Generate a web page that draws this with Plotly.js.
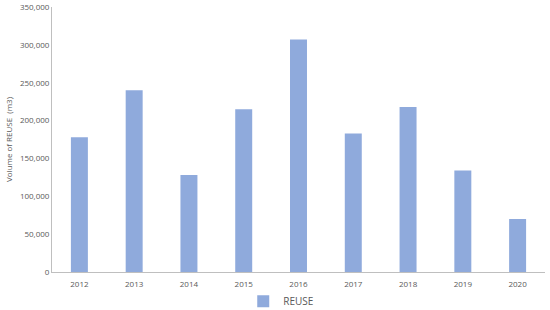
<!DOCTYPE html>
<html>
<head>
<meta charset="utf-8">
<script src="https://cdn.plot.ly/plotly-3.0.1.min.js"></script>
<style>
  html, body { margin: 0; padding: 0; background: #fff; }
  #chart { width: 550px; height: 310px; }
</style>
</head>
<body>
<div id="chart"></div>
<script>
// ── Data ──────────────────────────────────────────────────────────────────────
const years  = ['2012', '2013', '2014', '2015', '2016', '2017', '2018', '2019', '2020'];
const reuse  = [178000, 240000, 128000, 215000, 307000, 183000, 218000, 134000, 70000];
const yTicks = [0, 50000, 100000, 150000, 200000, 250000, 300000, 350000];

const GREY = '#595959';

const traces = [{
  x: years, y: reuse, name: 'REUSE',
  type: 'bar',
  marker: { color: '#8faadc' },
  hoverinfo: 'x+y',
}];

Plotly.newPlot('chart', traces, {
  width: 550, height: 310,
  paper_bgcolor: '#fff', plot_bgcolor: '#fff',
  font: { family: 'Open Sans, Liberation Sans, sans-serif', size: 8, color: GREY },
  margin: { t: 7, b: 38, l: 52, r: 5, autoexpand: false },
  bargap: 0.69,
  showlegend: true,
  legend: {
    orientation: 'h', x: 0.465, xanchor: 'center', y: -0.11, yanchor: 'middle',
    bgcolor: 'rgba(0,0,0,0)',
    font: { size: 10, color: GREY },
    itemwidth: 30,
  },
  xaxis: {
    type: 'category',
    showline: true, linecolor: '#bfbfbf', linewidth: 1,
    showgrid: false, ticks: '', ticklen: 0,
    ticklabelstandoff: 4,
    tickfont: { size: 8, color: GREY },
  },
  yaxis: {
    range: [0, 350000],
    tickvals: yTicks,
    tickformat: ',',
    showline: true, linecolor: '#bfbfbf', linewidth: 1,
    showgrid: false, zeroline: false, ticks: '',
    tickfont: { size: 8, color: GREY },
    title: { text: 'Volume of REUSE  (m3)', font: { size: 8, color: GREY }, standoff: 6 },
  },
}, { displayModeBar: false, staticPlot: true });
</script>
</body>
</html>
